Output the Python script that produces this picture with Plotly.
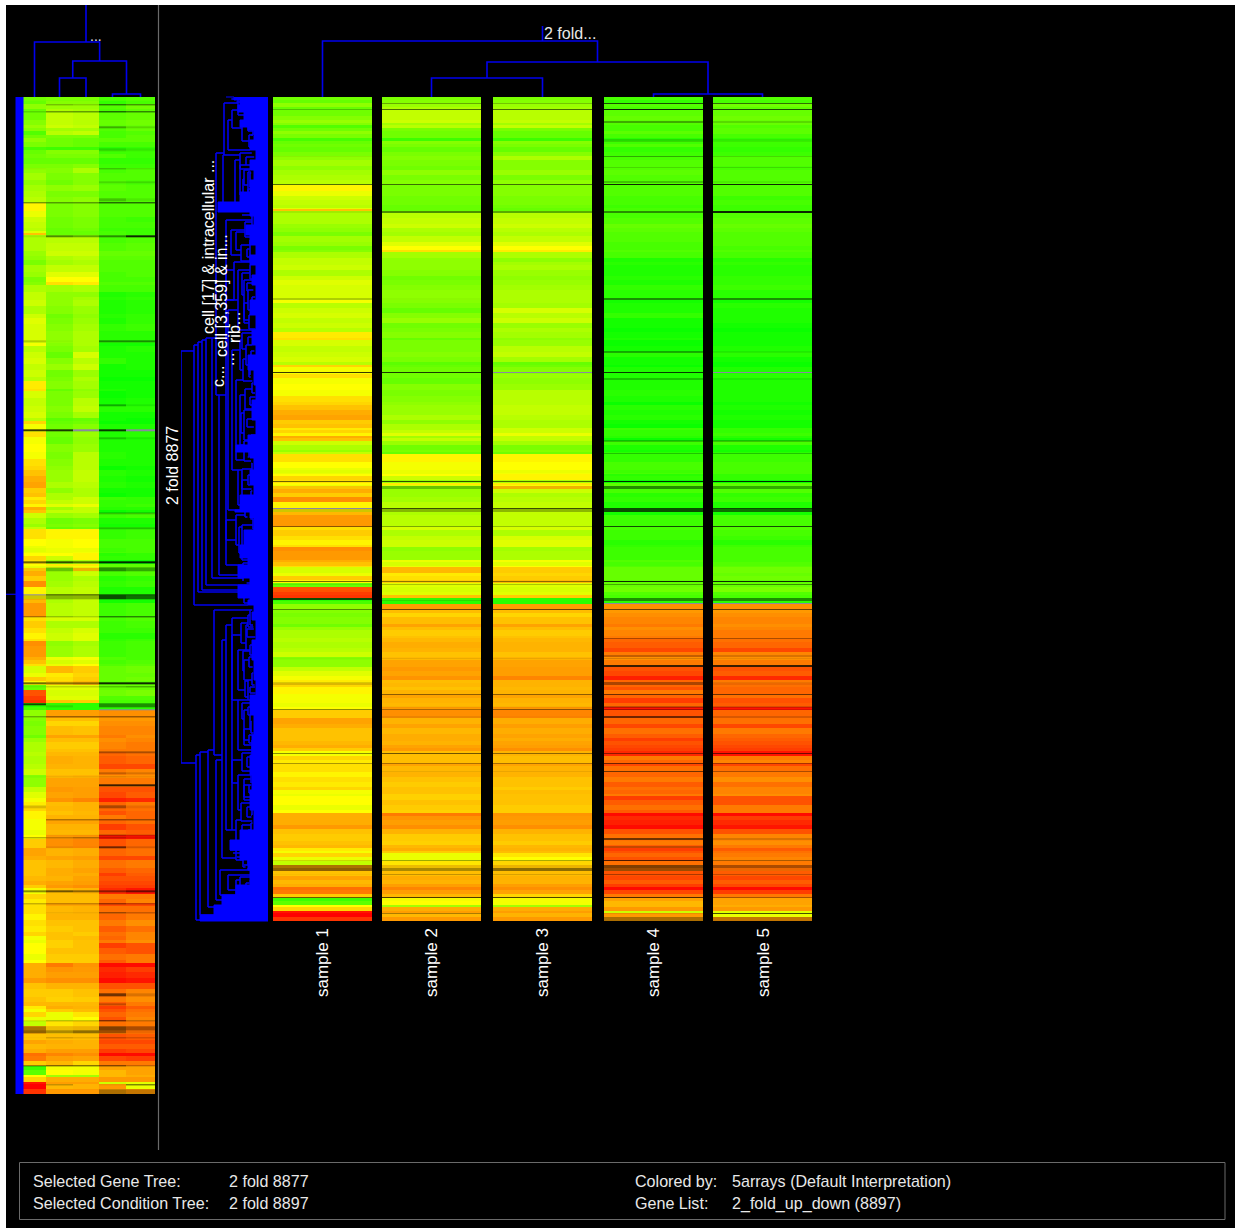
import numpy as np
import plotly.graph_objects as go

W, H = 1235, 1228

SAMPLES = ["sample 1", "sample 2", "sample 3", "sample 4", "sample 5"]

# display rows (top to bottom) at which each expression band begins
ROW_STARTS = [0,3,6,10,13,19,23,26,28,31,34,37,41,44,47,50,55,59,63,69,73,78,83,88,94,99,103,108,111,112,
114,116,121,127,131,135,139,145,149,153,155,161,165,168,173,179,183,188,193,203,206,211,216,221,226,231,235,241,243,249,
255,260,265,268,270,277,281,287,293,299,305,308,313,318,323,327,331,333,336,339,341,344,348,353,355,357,365,371,373,376,
377,379,383,386,388,389,392,396,400,405,415,418,430,433,439,443,448,450,454,463,465,469,470,476,479,483,486,490,495,498,
501,504,507,513,516,520,527,530,533,539,541,545,551,555,560,563,570,574,579,583,586,590,593,597,601,606,610,613,621,627,
631,637,641,644,648,651,654,659,663,666,669,675,680,685,690,693,697,699,703,708,713,716,719,723,728,732,737,744,748,751,
754,756,760,764,768,774,779,783,787,790,793,797,801,804,808,810,814,816,820]
ROW_END = 824

# expression read as a green(0) - yellow(50) - red(100) position
SAMPLE_1 = [22,20,28,20,22,26,30,26,16,22,28,24,14,20,22,20,24,28,32,28,
32,34,36,52,46,40,38,36,44,62,34,34,34,30,28,24,32,30,24,26,
34,38,38,40,34,40,44,42,42,48,36,40,42,38,40,36,54,56,42,38,
40,42,36,58,48,56,48,50,48,56,58,62,66,68,60,62,54,58,52,66,
62,40,34,30,38,56,50,46,44,46,50,58,56,50,46,60,66,60,72,52,
64,70,56,60,56,52,56,72,70,66,62,56,42,46,60,52,20,84,88,90,
8,14,28,26,24,26,22,30,34,34,36,34,36,40,26,28,38,44,48,54,
58,52,52,48,48,46,50,60,68,66,62,62,62,64,66,60,48,58,54,56,
56,52,56,54,58,48,46,50,50,46,50,66,66,66,70,62,60,62,64,54,
48,58,46,38,66,62,68,64,66,78,76,60,12,18,50,58,96,100,90]
SAMPLE_2 = [24,26,30,34,38,38,40,32,36,24,22,22,12,26,24,20,24,26,24,22,
28,24,26,24,24,22,22,20,20,20,26,36,38,40,34,32,38,44,50,56,
32,28,28,28,26,22,24,26,28,26,24,20,26,30,22,24,26,20,24,24,
26,24,18,20,22,22,20,26,24,26,28,30,30,34,28,34,34,38,44,32,
38,30,22,24,20,52,48,48,46,46,50,40,30,54,44,26,30,30,32,36,
34,36,42,34,38,40,40,28,30,46,42,46,64,54,56,60,44,42,44,62,
10,8,69,63,58,63,68,63,60,62,64,66,65,62,64,68,70,68,71,63,
64,62,65,68,65,64,70,72,65,68,64,66,66,65,68,70,63,63,63,68,
64,65,62,60,62,62,59,59,62,60,59,76,71,69,72,65,60,59,64,66,
60,46,46,55,60,63,66,65,69,74,69,64,48,50,32,66,69,64,70]
SAMPLE_3 = [24,26,30,32,36,36,38,32,38,24,20,20,12,26,24,20,26,34,26,26,
30,24,28,26,26,24,24,22,20,20,26,36,38,40,36,34,38,44,50,54,
34,28,32,34,30,28,30,32,34,34,32,42,36,40,30,34,32,28,30,36,
38,32,20,22,26,30,28,30,36,36,36,38,38,36,34,34,40,40,46,38,
38,32,24,26,22,52,50,50,46,48,52,52,34,54,48,62,40,34,36,38,
38,38,42,34,42,44,44,32,34,48,44,50,60,58,60,64,44,42,44,60,
8,8,69,63,58,62,68,63,60,62,64,65,65,62,65,68,69,69,74,65,
65,64,65,68,65,64,71,74,66,69,66,68,66,68,69,72,65,63,63,68,
65,65,62,62,60,63,62,62,62,60,60,71,70,69,72,65,62,60,64,65,
63,55,50,58,62,63,65,65,69,72,68,58,48,48,32,66,69,65,70]
SAMPLE_4 = [14,10,16,14,18,20,18,16,14,14,18,14,8,12,16,10,12,14,16,16,
18,16,16,16,16,14,14,12,14,14,14,14,16,20,18,16,16,14,14,16,
14,6,8,6,6,8,6,10,8,4,6,6,10,4,4,2,4,6,2,4,
8,4,4,2,6,6,6,6,8,6,2,8,6,8,4,2,12,10,10,8,
2,12,6,4,8,10,14,14,12,14,8,10,2,18,18,12,14,8,10,6,
4,12,14,12,12,8,10,12,12,16,14,16,20,20,20,18,20,22,16,14,
10,8,72,70,72,74,76,72,74,76,80,82,86,76,72,76,84,86,94,80,
80,84,76,80,88,80,96,84,80,86,78,82,88,84,86,88,92,76,80,86,
78,80,76,82,78,80,76,88,82,78,82,98,92,94,98,84,78,76,82,88,
84,80,84,78,76,84,86,82,88,98,86,76,68,64,64,70,40,70,68]
SAMPLE_5 = [16,14,22,18,20,22,20,20,16,18,18,14,10,12,12,10,12,16,16,14,
16,16,16,16,16,12,14,12,12,12,14,16,18,20,18,16,16,16,14,16,
14,8,10,8,8,10,10,12,8,4,8,6,6,6,4,2,4,4,4,6,
8,4,2,2,6,8,6,6,6,6,4,6,4,6,4,4,10,10,12,8,
4,14,6,4,8,12,14,14,14,14,10,10,2,18,18,14,16,10,12,6,
4,14,16,14,12,8,12,14,14,14,16,18,22,20,22,18,20,24,16,14,
10,8,72,70,72,74,72,74,76,76,78,80,86,74,72,76,84,82,92,76,
78,80,80,78,84,82,96,80,78,86,76,80,82,84,86,88,96,76,74,86,
78,76,72,78,74,74,72,84,84,76,76,98,88,92,96,84,74,72,76,82,
78,76,74,76,78,82,86,82,86,98,88,76,68,68,66,70,44,46,70]

# thin dark lines (darkness 0-1) and missing lines (-1), per sample
LINE_ROW = [6,12,24,42,59,70,84,87,114,201,254,275,281,343,356,384,389,411,412,429,484,487,501,503,506,512,541,558,561,568,585,597,609,612,619,656,666,674,741,749,763,768,771,777,800,816,820]
LINE_LEN = [1,1,2,3,1,1,2,1,2,2,2,1,2,2,1,1,3,1,3,1,1,1,2,1,1,1,1,2,1,2,3,1,2,1,2,1,1,1,2,2,1,3,3,1,1,1,4]
LINE_1 = [0,.4,0,0,.15,0,0,.7,.2,.35,0,.85,0,0,0,.7,.1,-1,.35,.6,.7,.2,.8,0,.0,.6,0,0,.1,0,.3,0,0,.6,0,.6,.5,0,0,0,.3,.5,.6,.1,.7,0,0]
LINE_2 = [.5,.7,0,0,0,0,0,.7,.6,.1,0,.85,0,0,0,.8,.4,.8,.45,.5,.6,.4,.1,.3,0,.7,0,0,.2,0,.0,.6,.1,.5,.2,.7,.5,.2,0,.0,.5,.2,.5,.4,.8,.5,0]
LINE_3 = [.4,.7,0,0,0,0,0,.7,.5,0,0,-1,0,0,0,.7,.2,.8,.45,.4,.6,.4,0,0,0,.7,0,0,.2,0,0,.6,.1,.6,.1,.6,.5,.2,0,0,.5,.2,.6,.3,.8,0,0]
LINE_4 = [.8,.9,.5,.3,.5,.3,.4,.9,.6,.6,.5,.85,.4,.4,.4,.9,.6,.8,.8,.8,.9,.5,.6,.6,-1,.7,.5,.4,.3,.85,.5,.7,.4,.5,.7,.6,.7,.7,.7,.4,.8,.65,.55,.5,.8,.2,.5]
LINE_5 = [.7,.8,.3,.2,.3,.3,.2,.9,.9,.6,.2,-1,.2,.4,.4,.9,.5,.8,.7,.8,.9,.6,.6,.6,-1,.7,.5,.3,.2,.85,.2,.7,.3,.3,.3,.7,.5,.5,.3,0,.5,.5,.2,.4,.5,.8,.4]

# gene tree: merge depth and the rows each merge spans
GENE_DEPTH = [87,74,70,66,62,56,52,49,72,68,60,54,52,46,42,36,44,45,40,36,42,40,36,32,28,24,30,26,42,32,26,22,33,28,24,20,42,37,32,42,34,30,24,20,28,22,18,16,18,15,36,30,24,30,24,18,36,30,24,32,26,20,48,40,32,22,20,16,16,18,
30,24,20,26,19,28,22,18,25,20,23,17,27,21,18,26,21,16,24,19,26,20,17,25,19,16,23,18,27,21,17,24,19,16,26,20,17,23,18,15,29,22,18,25,19,16,24,20,27,21,18,25,19,16,23,18,26,20,17,24,19,26,21,17,24,19,27,21,17,23,18,25,20,16,28,22]
GENE_TOP = [254,248,245,243,241,241,56,298,658,655,653,513,663,543,528,521,6,58,23,13,203,213,253,283,298,313,373,383,423,418,428,438,63,68,73,75,123,133,135,173,165,173,183,193,243,248,258,118,143,13,538,553,563,603,613,618,663,678,688,723,728,733,773,778,783,528,583,643,703,513,
2,5,20,26,38,56,60,76,82,92,125,130,148,152,168,176,186,200,206,218,236,240,254,262,270,286,292,300,316,322,338,344,352,366,372,378,394,400,406,422,430,436,460,466,472,486,490,518,526,532,548,554,560,576,584,590,606,610,624,632,638,656,660,676,682,688,706,710,726,734,740,756,760,772,780,786]
GENE_BOTTOM = [666,508,495,493,488,481,298,478,823,818,810,658,803,761,733,686,58,108,53,31,443,413,373,363,348,343,408,403,468,448,463,458,108,98,88,103,203,158,153,243,203,233,223,213,273,268,278,135,165,38,603,593,583,653,643,633,733,713,703,763,753,748,798,793,803,553,603,663,718,528,
18,14,34,44,50,72,68,90,100,106,140,146,164,160,182,198,194,214,226,232,252,248,266,284,280,296,312,308,336,330,350,364,360,376,392,388,404,420,414,432,456,448,470,484,480,494,506,530,546,540,558,574,570,588,600,596,622,618,636,648,646,674,670,686,700,696,724,720,738,750,746,770,768,784,800,796]

# left outline of the densely merged leaves
LEAF_ROW = [0,3,8,15,23,30,33,43,53,63,73,83,95,105,110,115,119,128,138,148,158,168,178,188,203,218,233,248,258,273,288,303,323,338,348,355,361,373,388,398,413,415,421,433,448,461,468,481,488,501,503,508,515,523,543,563,583,598,618,638,658,678,693,713,733,743,753,763,773,788,798,808,818,824]
LEAF_DEPTH = [42,34,28,30,24,28,20,14,18,12,18,14,18,28,50,50,18,14,22,18,12,18,12,16,12,18,12,16,12,20,14,12,16,12,20,32,18,14,18,14,28,33,18,14,24,28,20,30,18,30,18,20,14,16,12,16,14,12,18,14,16,18,16,18,14,28,38,28,20,18,32,46,54,68]

THUMB_TICK_ROW = 411

row_edges = ROW_STARTS + [ROW_END]
assert len(ROW_STARTS) == len(SAMPLE_1) == len(SAMPLE_2) == len(SAMPLE_3) == len(SAMPLE_4) == len(SAMPLE_5)
assert len(LINE_ROW) == len(LINE_LEN) == len(LINE_1) == len(LINE_2) == len(LINE_3) == len(LINE_4) == len(LINE_5)
assert len(GENE_DEPTH) == len(GENE_TOP) == len(GENE_BOTTOM) and len(LEAF_ROW) == len(LEAF_DEPTH)

samples = [SAMPLE_1, SAMPLE_2, SAMPLE_3, SAMPLE_4, SAMPLE_5]
lines = [LINE_1, LINE_2, LINE_3, LINE_4, LINE_5]

# layout of the panels
main_x = [0, 99, 109, 208, 220, 319, 331, 430, 440, 539]
thumb_x = [0, 23, 50, 76, 103, 132]


def with_gaps(row):
    out = []
    for i, v in enumerate(row):
        out.append(v)
        if i < len(row) - 1:
            out.append(None)
    return out


def shade(v):
    return v if v < 0 else v ** 1.6


z_rows = [[samples[c][r] for c in range(5)] for r in range(len(ROW_STARTS))]
line_edges, line_rows = [], []
for i, r in enumerate(LINE_ROW):
    end = r + LINE_LEN[i]
    if line_edges and line_edges[-1] < r:
        line_edges.append(r)
        line_rows.append([None] * 5)
    elif not line_edges:
        line_edges.append(r)
    line_rows.append([shade(lines[c][i]) for c in range(5)])
    line_edges.append(end)

VALUE_SCALE = [[0, "rgb(0,255,0)"], [0.5, "rgb(255,255,0)"], [1, "rgb(255,0,0)"]]
LINE_SCALE = [[0, "rgb(140,135,160)"], [0.49, "rgb(140,135,160)"], [0.5, "rgba(0,0,0,0)"], [1, "rgba(0,0,0,1)"]]

fig = go.Figure()


def add_panel(xedges, zv, zl, xa, ya):
    fig.add_trace(go.Heatmap(x=xedges, y=row_edges, z=zv, zmin=0, zmax=100, colorscale=VALUE_SCALE,
                             showscale=False, hoverinfo="skip", xaxis=xa, yaxis=ya))
    fig.add_trace(go.Heatmap(x=xedges, y=line_edges, z=zl, zmin=-1, zmax=1, colorscale=LINE_SCALE,
                             showscale=False, hoverinfo="skip", xaxis=xa, yaxis=ya, hoverongaps=False))


add_panel(main_x, [with_gaps(r) for r in z_rows], [with_gaps(r) for r in line_rows], "x", "y")
add_panel(thumb_x, z_rows, line_rows, "x2", "y2")

# gene tree
BLUE = "#0000ee"
depths = np.array(GENE_DEPTH)
tops = np.array(GENE_TOP)
bots = np.array(GENE_BOTTOM)
tx, ty = [], []
for d, t, b in zip(GENE_DEPTH, GENE_TOP, GENE_BOTTOM):
    tx += [d, d, None]
    ty += [t, b, None]
    for end in (t, b):
        mask = (tops <= end) & (bots >= end) & (depths < d)
        to = depths[mask].max() if mask.any() else float(np.interp(end, LEAF_ROW, LEAF_DEPTH))
        tx += [d, to, None]
        ty += [end, end, None]
fig.add_trace(go.Scatter(x=tx, y=ty, mode="lines", line=dict(color=BLUE, width=1.6), hoverinfo="skip",
                         xaxis="x3", yaxis="y"))
fig.add_trace(go.Scatter(x=LEAF_DEPTH + [0, 0], y=LEAF_ROW + [ROW_END, 0], mode="lines", fill="toself",
                         fillcolor="#0000ff", line=dict(color="#0000ff", width=1, shape="hv"), hoverinfo="skip",
                         xaxis="x3", yaxis="y"))

# condition tree over the main panel: leaves at the sample centres, heights
centre = [(main_x[2 * i] + main_x[2 * i + 1]) / 2 for i in range(5)]


def tree(cx, h1, h2, h3, h4, stem_x, stem_top):
    a = (cx[1] + cx[2]) / 2
    b = (cx[3] + cx[4]) / 2
    c = (a + b) / 2
    d = (cx[0] + c) / 2
    xs = [cx[3], cx[3], cx[4], cx[4], None, cx[1], cx[1], cx[2], cx[2], None,
          a, a, b, b, None, cx[0], cx[0], c, c, None, stem_x, stem_x]
    ys = [0, h1, h1, 0, None, 0, h2, h2, 0, None,
          h2, h3, h3, h1, None, 0, h4, h4, h3, None, h4, stem_top]
    return xs, ys


mx, my = tree(centre, 3, 19, 35, 56, centre[2], 71)
fig.add_trace(go.Scatter(x=mx, y=my, mode="lines", line=dict(color=BLUE, width=1.6), hoverinfo="skip",
                         xaxis="x", yaxis="y3"))
thumb_centre = [(thumb_x[i] + thumb_x[i + 1]) / 2 for i in range(5)]
ox, oy = tree(thumb_centre, 3, 19, 36, 55, 63, 92)
fig.add_trace(go.Scatter(x=ox, y=oy, mode="lines", line=dict(color=BLUE, width=1.6), hoverinfo="skip",
                         xaxis="x2", yaxis="y4"))

# overview gene tree bar and its tick
fig.add_trace(go.Scatter(x=[-7, 0, 0, -7, -7], y=[0, 0, ROW_END, ROW_END, 0], mode="lines", fill="toself",
                         fillcolor="#0000ff", line=dict(color="#0000ff", width=1), hoverinfo="skip",
                         xaxis="x2", yaxis="y2"))
fig.add_trace(go.Scatter(x=[-17, -7], y=[THUMB_TICK_ROW, THUMB_TICK_ROW], mode="lines",
                         line=dict(color=BLUE, width=1.2), hoverinfo="skip", xaxis="x2", yaxis="y2"))


def px_x(a, b):
    return [a / W, b / W]


def px_y(top, bottom):
    return [1 - bottom / H, 1 - top / H]


hidden = dict(visible=False, fixedrange=True)
fig.update_layout(
    width=W, height=H, autosize=False, margin=dict(l=0, r=0, t=0, b=0, pad=0),
    paper_bgcolor="white", plot_bgcolor="rgba(0,0,0,0)", showlegend=False,
    xaxis=dict(domain=px_x(273, 812), range=[0, 539], anchor="y", **hidden),
    yaxis=dict(domain=px_y(95, 922), range=[825, -2], anchor="x", **hidden),
    xaxis2=dict(domain=px_x(6, 155), range=[-17, 132], anchor="y2", **hidden),
    yaxis2=dict(domain=px_y(97, 1094), range=[824, 0], anchor="x2", **hidden),
    xaxis3=dict(domain=px_x(181, 268), range=[87, 0], anchor="y", **hidden),
    yaxis3=dict(domain=px_y(26, 97), range=[0, 71], anchor="x", **hidden),
    yaxis4=dict(domain=px_y(5, 97), range=[0, 92], anchor="x2", **hidden),
)

GREY = "#6a6a6a"
fig.update_layout(shapes=[
    dict(type="rect", xref="paper", yref="paper", x0=6 / W, x1=1, y0=0, y1=1 - 5 / H, fillcolor="black",
         line_width=0, layer="below"),
    dict(type="line", xref="paper", yref="paper", x0=158.5 / W, x1=158.5 / W, y0=1 - 1150 / H, y1=1 - 5 / H,
         line=dict(color=GREY, width=1.2), layer="below"),
    dict(type="rect", xref="paper", yref="paper", x0=19.5 / W, x1=1225 / W, y0=1 - 1219.5 / H, y1=1 - 1162.5 / H,
         line=dict(color=GREY, width=1), layer="below"),
])


def label(text, x, y, size=16, color="#e8e8e8", angle=0, xanchor="left", yanchor="middle"):
    fig.add_annotation(text=text, x=x / W, y=1 - y / H, xref="paper", yref="paper", showarrow=False,
                       textangle=angle, xanchor=xanchor, yanchor=yanchor, borderpad=0, borderwidth=0,
                       font=dict(family="Liberation Sans", size=size, color=color))


for name, cx in zip(SAMPLES, [322.5, 431.5, 542.5, 653.5, 763.5]):
    label(name, cx, 962.5, size=17, color="white", angle=-90, xanchor="center")
label("2 fold 8877", 173, 466, color="white", angle=-90, xanchor="center")
label("cell [17] & intracellular ...", 209, 247, color="white", angle=-90, xanchor="center")
label("cell [3,359] & in...", 221, 296, color="white", angle=-90, xanchor="center")
label("rib...", 234, 328, color="white", angle=-90, xanchor="center")
label("c...", 218, 377, color="white", angle=-90, xanchor="center")
label("...", 228, 360, color="white", angle=-90, xanchor="center")
label("...", 90, 36, size=14)
label("2 fold...", 544, 33.5)

label("Selected Gene Tree:", 33, 1181, size=16.1)
label("2 fold 8877", 228.5, 1181, size=16.1)
label("Selected Condition Tree:", 33, 1203, size=16.1)
label("2 fold 8897", 228.5, 1203, size=16.1)
label("Colored by:", 634.5, 1181, size=16.1)
label("5arrays (Default Interpretation)", 731.5, 1181, size=16.1)
label("Gene List:", 634.5, 1203, size=16.1)
label("2_fold_up_down (8897)", 731.5, 1203, size=16.1)

fig.write_html("out.html", config=dict(displayModeBar=False),
               post_script="document.body.style.margin='0';document.documentElement.style.overflow='hidden';")
